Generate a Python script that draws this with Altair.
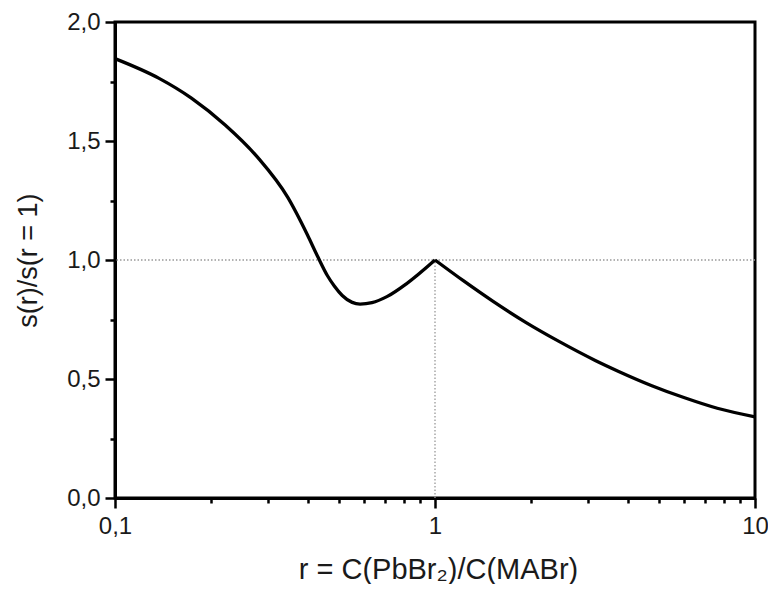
import altair as alt
import pandas as pd

# curve: r and s(r)/s(r=1)
r_left = [0.1, 0.1369, 0.1733, 0.2209, 0.2796, 0.3463, 0.3995, 0.4291, 0.4608, 0.4845,
          0.513, 0.551, 0.5832, 0.6354, 0.7074, 0.8157, 1.0]
s_left = [1.846, 1.764, 1.680, 1.567, 1.430, 1.264, 1.105, 1.017, 0.935, 0.891,
          0.851, 0.822, 0.815, 0.821, 0.846, 0.901, 1.0]
r_right = [1.0, 1.226, 1.519, 1.921, 2.432, 3.168, 3.734, 4.76, 6.025, 7.623, 10.0]
s_right = [1.0, 0.913, 0.826, 0.738, 0.659, 0.578, 0.533, 0.472, 0.421, 0.377, 0.341]

x_ticks = [0.1, 0.2, 0.3, 0.4, 0.5, 0.6, 0.7, 0.8, 0.9, 1, 2, 3, 4, 5, 6, 7, 8, 9, 10]
y_ticks = [0.0, 0.25, 0.5, 0.75, 1.0, 1.25, 1.5, 1.75, 2.0]

df = pd.DataFrame({
    "r": r_left + r_right,
    "s": s_left + s_right,
    "seg": ["a"] * len(r_left) + ["b"] * len(r_right),
})

FONT = "Liberation Sans"
W, H = 640, 476
x_major = "datum.value == 0.1 || datum.value == 1 || datum.value == 10"
y_major = "datum.value * 2 == round(datum.value * 2)"

x_scale = alt.Scale(type="log", domain=[0.1, 10], nice=False)
y_scale = alt.Scale(domain=[0, 2], nice=False, zero=False)

x_axis = alt.Axis(
    title="r = C(PbBr₂)/C(MABr)",
    values=x_ticks,
    labelExpr=f"({x_major}) ? replace(format(datum.value, '~g'), '.', ',') : ''",
    tickSize={"condition": {"test": x_major, "value": 10}, "value": 5},
    tickWidth=2.5, tickColor="black",
    domainColor="black", domainWidth=3,
    labelFont=FONT, labelFontSize=24, labelColor="#1a1a1a", labelPadding=6,
    labelFlush=False, labelOverlap=False,
    titleFont=FONT, titleFontSize=29, titleFontWeight="normal", titleColor="#1a1a1a",
    titleBaseline="alphabetic", titleX=323, titleY=80, grid=False,
)
y_axis = alt.Axis(
    title="s(r)/s(r = 1)",
    values=y_ticks,
    labelExpr=f"({y_major}) ? replace(format(datum.value, '.1f'), '.', ',') : ''",
    tickSize={"condition": {"test": y_major, "value": 10}, "value": 5},
    tickWidth=2.5, tickColor="black",
    domainColor="black", domainWidth=3,
    labelFont=FONT, labelFontSize=24, labelColor="#1a1a1a", labelPadding=5,
    labelFlush=False, labelOverlap=False,
    titleFont=FONT, titleFontSize=27, titleFontWeight="normal", titleColor="#1a1a1a",
    titleBaseline="alphabetic", titleX=-79, titleY=H / 2, grid=False,
)

line = alt.Chart(df).mark_line(color="black", strokeWidth=3.3, interpolate="monotone").encode(
    x=alt.X("r:Q", scale=x_scale, axis=x_axis),
    y=alt.Y("s:Q", scale=y_scale, axis=y_axis),
    detail="seg:N",
)

ref = pd.DataFrame({"one": [1.0], "zero": [0.0]})
hrule = alt.Chart(ref).mark_rule(color="#999999", strokeWidth=1.3, strokeDash=[1.5, 2]).encode(
    y=alt.Y("one:Q", scale=y_scale),
)
vrule = alt.Chart(ref).mark_rule(color="#999999", strokeWidth=1.3, strokeDash=[1.5, 2]).encode(
    x=alt.X("one:Q", scale=x_scale),
    y=alt.Y("zero:Q", scale=y_scale),
    y2="one:Q",
)

chart = alt.layer(hrule, vrule, line).properties(
    width=W, height=H,
    autosize=alt.AutoSizeParams(type="none"),
    padding={"left": 107, "top": 14, "right": 13, "bottom": 86},
    background="white",
).configure_view(stroke="black", strokeWidth=3)

chart.save("out.html", embed_options={"renderer": "svg", "actions": False})
